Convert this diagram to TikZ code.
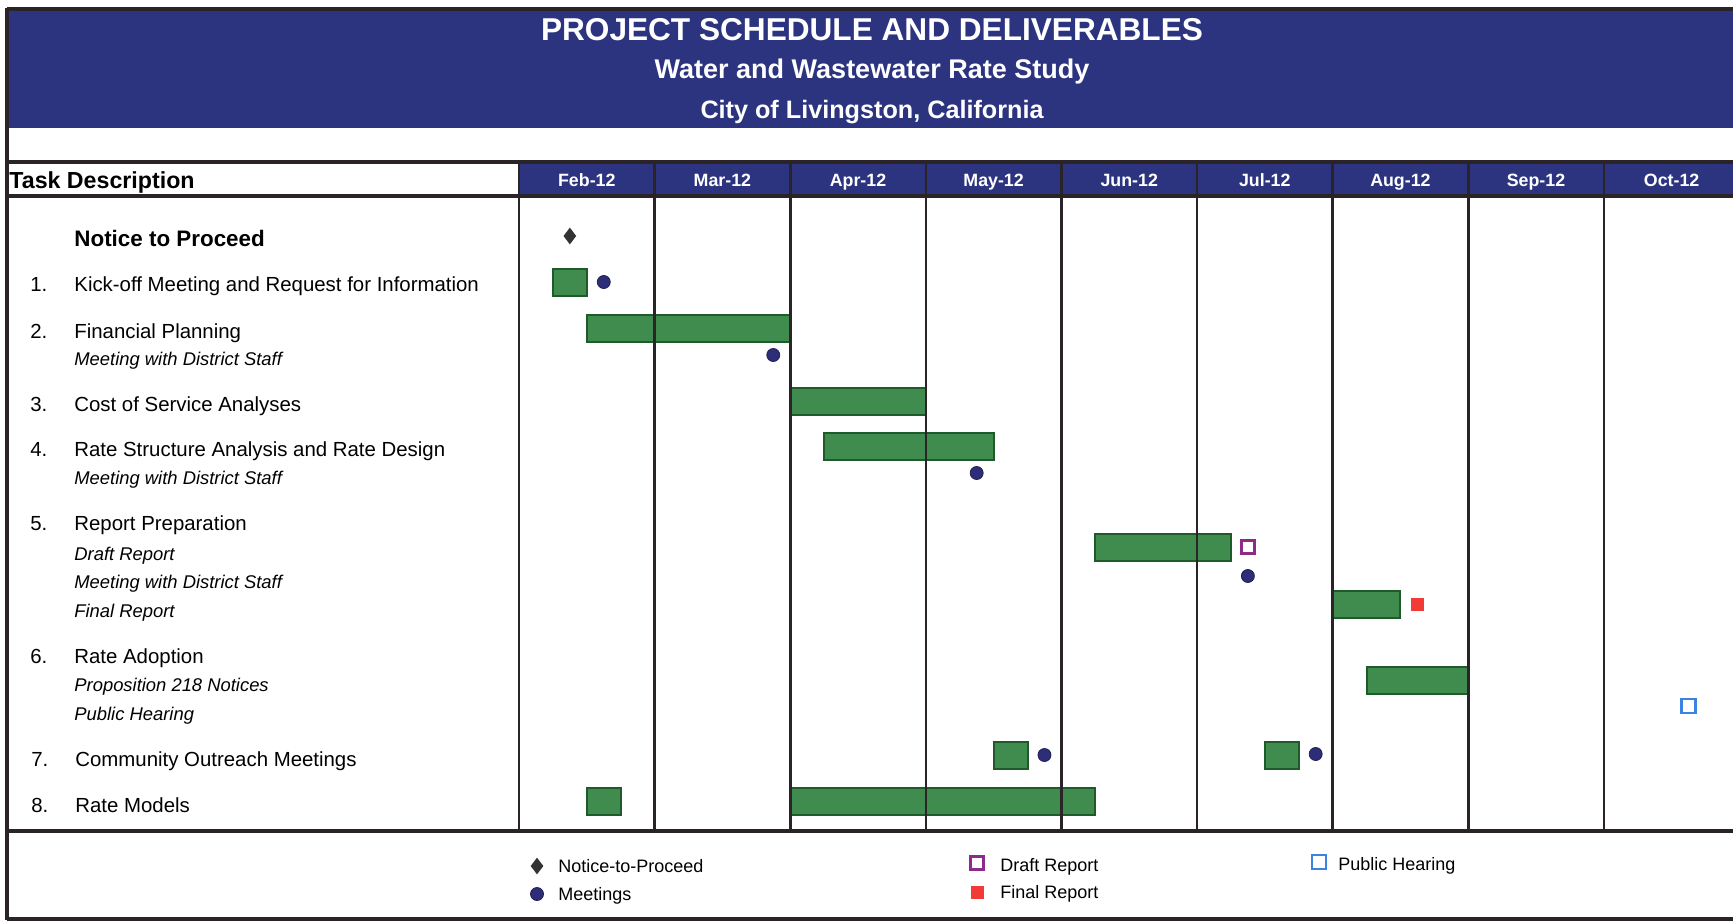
\documentclass[tikz,border=0pt]{standalone}
\usepackage{fontspec}
\setmainfont{Liberation Sans}
\usetikzlibrary{shapes.geometric}

\definecolor{banner}{HTML}{2C3480}
\definecolor{barfill}{HTML}{3F8C4E}
\definecolor{barline}{HTML}{1E5A2A}
\definecolor{meetc}{HTML}{2E2D78}
\definecolor{draftc}{HTML}{8E2A8C}
\definecolor{finalc}{HTML}{F23A36}
\definecolor{hearc}{HTML}{3C82E0}
\definecolor{rulec}{HTML}{2A2428}

% month number -> x in px (Feb-12 = 0)
\def\mx#1{(519+135.6*(#1))}
% one green bar: \taskbar(from:to:ycentre)
\def\taskbar(#1:#2:#3){\draw[bar] ({\mx{#1}},#3-13.5) rectangle ({\mx{#2}},#3+13.5);}

\begin{document}
\begin{tikzpicture}[x=0.5pt,y=-0.5pt,
	bar/.style={fill=barfill,draw=barline,line width=1pt},
	meeting/.style={circle,fill=meetc,draw=meetc!70!black,line width=0.4pt,inner sep=0pt,minimum size=6.5pt},
	ntp/.style={diamond,fill=black!80,inner sep=0pt,minimum width=6.5pt,minimum height=8.5pt},
	draft/.style={rectangle,draw=draftc,line width=1.4pt,fill=white,inner sep=0pt,minimum size=6.6pt},
	final/.style={rectangle,fill=finalc,inner sep=0pt,minimum size=6.5pt},
	hearing/.style={rectangle,draw=hearc,line width=1.1pt,fill=white,inner sep=0pt,minimum size=7pt},
	task/.style={anchor=base west,inner sep=0pt,font=\fontsize{10.2}{12}\selectfont},
	sub/.style={anchor=base west,inner sep=0pt,font=\fontsize{9.2}{11}\selectfont\itshape},
	month/.style={anchor=base,text=white,inner sep=0pt,font=\fontsize{8.9}{10}\selectfont\bfseries},
	legend/.style={anchor=base west,inner sep=0pt,font=\fontsize{9}{11}\selectfont},
	rule/.style={draw=rulec,line width=1.3pt}]
	%%%%% START %%%%%
	\useasboundingbox (0,0) rectangle (1733,921);
	\fill[white] (0,0) rectangle (1733,921);
	
	% banner
	\fill[banner] (7,9) rectangle (1733,128);
	\node[text=white,font=\fontsize{15.8}{18}\selectfont\bfseries] (title) at (872,30) {PROJECT SCHEDULE AND DELIVERABLES};
	\node[text=white,font=\fontsize{13.5}{16}\selectfont\bfseries] (study) at (872,72) {Water and Wastewater Rate Study};
	\node[text=white,font=\fontsize{12.6}{15}\selectfont\bfseries] (city) at (872,112) {City of Livingston, California};
	
	% header row
	\fill[banner] (519,162) rectangle (1733,196);
	\node[anchor=base west,inner sep=0pt,font=\fontsize{11.6}{14}\selectfont\bfseries] (taskhead) at (9,188) {Task Description};
	\foreach \m [count=\i from 0] in {Feb,Mar,Apr,May,Jun,Jul,Aug,Sep,Oct}
		\node[month] (m\i) at ({\mx{\i+0.5}},186) {\m-12};
	
	% task list
	\node[anchor=base west,inner sep=0pt,font=\fontsize{11.2}{13}\selectfont\bfseries] (ntp) at (74,246) {Notice to Proceed};
	\node[task] (n1) at (30,291) {1.};
	\node[task] (t1) at (74,291) {Kick-off Meeting and Request for Information};
	\node[task] (n2) at (30,338) {2.};
	\node[task] (t2) at (74,338) {Financial Planning};
	\node[sub] (s2a) at (74,365) {Meeting with District Staff};
	\node[task] (n3) at (30,411) {3.};
	\node[task] (t3) at (74,411) {Cost of Service Analyses};
	\node[task] (n4) at (30,456) {4.};
	\node[task] (t4) at (74,456) {Rate Structure Analysis and Rate Design};
	\node[sub] (s4a) at (74,484) {Meeting with District Staff};
	\node[task] (n5) at (30,530) {5.};
	\node[task] (t5) at (74,530) {Report Preparation};
	\node[sub] (s5a) at (74,560) {Draft Report};
	\node[sub] (s5b) at (74,588) {Meeting with District Staff};
	\node[sub] (s5c) at (74,617) {Final Report};
	\node[task] (n6) at (30,663) {6.};
	\node[task] (t6) at (74,663) {Rate Adoption};
	\node[sub] (s6a) at (74,691) {Proposition 218 Notices};
	\node[sub] (s6b) at (74,720) {Public Hearing};
	\node[task] (n7) at (31,766) {7.};
	\node[task] (t7) at (75,766) {Community Outreach Meetings};
	\node[task] (n8) at (31,812) {8.};
	\node[task] (t8) at (75,812) {Rate Models};
	
	% bars
	\taskbar(0.25:0.5:282)
	\taskbar(0.5:2:328)
	\taskbar(2:3:401)
	\taskbar(2.25:3.5:446)
	\taskbar(4.25:5.25:547)
	\taskbar(6:6.5:604)
	\taskbar(6.25:7:680)
	\taskbar(3.5:3.75:755)
	\taskbar(5.5:5.75:755)
	\taskbar(0.5:0.75:801)
	\taskbar(2:4.25:801)
	
	% grid
	\foreach \k in {0,...,8}
		\draw[rule] ({\mx{\k}},162) -- ({\mx{\k}},831);
	\draw[rule,line width=1.6pt] (7,162) -- (1733,162);
	\draw[rule,line width=1.6pt] (7,196) -- (1733,196);
	\draw[rule,line width=1.7pt] (7,831) -- (1733,831);
	\draw[rule,line width=1.6pt] (7,9) -- (1733,9);
	\draw[rule,line width=1.6pt] (7,8) -- (7,920);
	\draw[rule,line width=1.8pt] (7,919) -- (1733,919);
	
	% milestones
	\node[ntp] (d0) at ({\mx{0.375}},236) {};
	\node[meeting] (c1) at ({\mx{0.625}},282) {};
	\node[meeting] (c2) at ({\mx{1.875}},355) {};
	\node[meeting] (c4) at ({\mx{3.375}},473) {};
	\node[draft] (dr5) at ({\mx{5.375}},547) {};
	\node[meeting] (c5) at ({\mx{5.375}},576) {};
	\node[final] (fr5) at ({\mx{6.625}},604) {};
	\node[hearing] (ph6) at ({\mx{8.625}},706) {};
	\node[meeting] (c7a) at ({\mx{3.875}},755) {};
	\node[meeting] (c7b) at ({\mx{5.875}},754) {};
	
	% legend
	\node[ntp] (k1) at (537,866) {};
	\node[legend] (l1) at (558,872) {Notice-to-Proceed};
	\node[meeting] (k2) at (537,894) {};
	\node[legend] (l2) at (558,900) {Meetings};
	\node[draft] (k3) at (977,863) {};
	\node[legend] (l3) at (1000,871) {Draft Report};
	\node[final] (k4) at (977,892) {};
	\node[legend] (l4) at (1000,898) {Final Report};
	\node[hearing] (k5) at (1319,862) {};
	\node[legend] (l5) at (1338,870) {Public Hearing};
	%%%%% END %%%%%
\end{tikzpicture}
\end{document}
